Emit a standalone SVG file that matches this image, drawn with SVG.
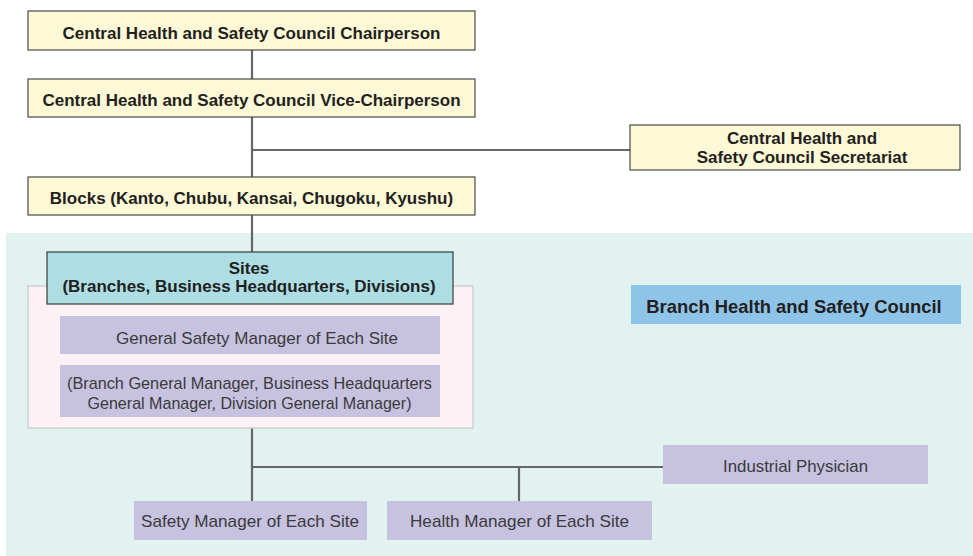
<svg xmlns="http://www.w3.org/2000/svg" width="973" height="556" viewBox="0 0 973 556">
<style>
.y{fill:#fdf8d6;stroke:#4a4a4a;stroke-width:1.2}
.p{fill:#c6c2e0}
.tb{font-family:"Liberation Sans",Arial,sans-serif;font-weight:bold;font-size:17px;fill:#231f20;text-anchor:middle}
.tr{font-family:"Liberation Sans",Arial,sans-serif;font-size:17px;fill:#3a3a3a;text-anchor:middle}
.c{stroke:#666;stroke-width:2.2;fill:none}
</style>
<rect x="0" y="0" width="973" height="556" fill="#fff"/>
<rect id="bg" x="6" y="233" width="967" height="323" fill="#e1f2f1"/>
<g id="connectors">
<path class="c" d="M252 50V79M252 117V177M252 150H630M252 215V252M252 428V501M252 467H663M519 467V501"/>
</g>
<g id="chair"><rect class="y" x="28" y="11" width="447" height="39"/><text class="tb" x="251.5" y="39">Central Health and Safety Council Chairperson</text></g>
<g id="vice"><rect class="y" x="28" y="79" width="447" height="38"/><text class="tb" x="251.5" y="106">Central Health and Safety Council Vice-Chairperson</text></g>
<g id="secretariat"><rect class="y" x="630" y="125" width="330" height="45"/><text class="tb" x="802" y="144">Central Health and</text><text class="tb" x="802" y="163">Safety Council Secretariat</text></g>
<g id="blocks"><rect class="y" x="28" y="177" width="447" height="38"/><text class="tb" x="251.5" y="204">Blocks (Kanto, Chubu, Kansai, Chugoku, Kyushu)</text></g>
<g id="sitepanel"><rect x="28" y="286" width="445" height="142" fill="#fcf1f4" stroke="#c9c9c9" stroke-width="1.2"/></g>
<g id="sites"><rect x="47" y="252" width="406" height="52" fill="#acdee4" stroke="#3a3a3a" stroke-width="1.2"/><text class="tb" x="249" y="274">Sites</text><text class="tb" x="249" y="292">(Branches, Business Headquarters, Divisions)</text></g>
<g id="gsm"><rect class="p" x="60" y="316" width="380" height="38"/><text class="tr" x="257" y="344" textLength="282" lengthAdjust="spacingAndGlyphs">General Safety Manager of Each Site</text></g>
<g id="gm"><rect class="p" x="60" y="365" width="380" height="52"/><text class="tr" x="249.5" y="389" textLength="365" lengthAdjust="spacingAndGlyphs">(Branch General Manager, Business Headquarters</text><text class="tr" x="249.5" y="409" textLength="324" lengthAdjust="spacingAndGlyphs">General Manager, Division General Manager)</text></g>
<g id="branch"><rect x="631" y="285" width="330" height="39" fill="#8fc4e9"/><text class="tb" x="794" y="313" style="font-size:18.4px">Branch Health and Safety Council</text></g>
<g id="physician"><rect class="p" x="663" y="445" width="265" height="39"/><text class="tr" x="795.5" y="472" textLength="145" lengthAdjust="spacingAndGlyphs">Industrial Physician</text></g>
<g id="safety"><rect class="p" x="134" y="501" width="233" height="39"/><text class="tr" x="250" y="527" textLength="218" lengthAdjust="spacingAndGlyphs">Safety Manager of Each Site</text></g>
<g id="health"><rect class="p" x="387" y="501" width="265" height="39"/><text class="tr" x="519.5" y="527" textLength="219" lengthAdjust="spacingAndGlyphs">Health Manager of Each Site</text></g>
</svg>
